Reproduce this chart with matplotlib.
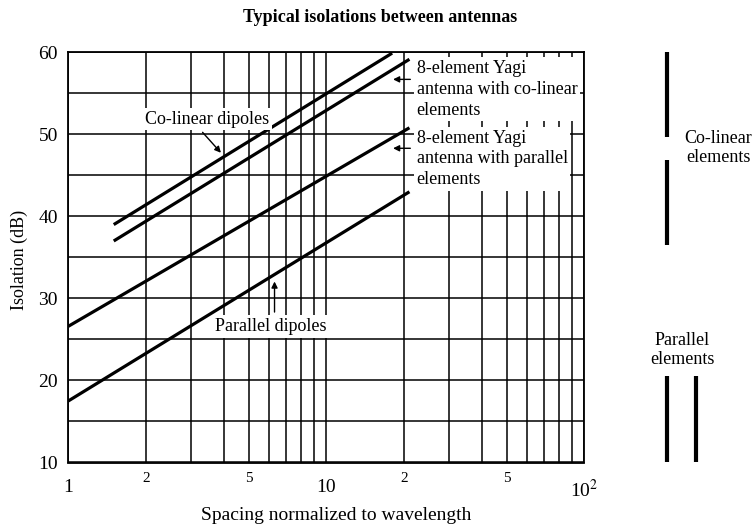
import matplotlib
matplotlib.use("Agg")
import matplotlib.pyplot as plt
from matplotlib.lines import Line2D
from matplotlib.ticker import FixedLocator, FixedFormatter, NullFormatter

plt.rcParams["font.family"] = ["Liberation Serif", "DejaVu Serif"]
plt.rcParams["mathtext.fontset"] = "stix"

# curves (spacing in wavelengths, isolation in dB)
colinear_dip_x = [1.5, 18.0]
colinear_dip_y = [39.0, 59.9]
yagi_colin_x = [1.5, 21.0]
yagi_colin_y = [37.0, 59.15]
yagi_par_x = [1.0, 21.0]
yagi_par_y = [26.6, 50.8]
parallel_dip_x = [1.0, 21.0]
parallel_dip_y = [17.5, 43.0]

major_x = [1, 10, 100]
major_x_labels = ["1", "10", "10$^2$"]
minor_x = [2, 3, 4, 5, 6, 7, 8, 9, 20, 30, 40, 50, 60, 70, 80, 90]
minor_x_labels = ["2", "", "", "5", "", "", "", "", "2", "", "", "5", "", "", "", ""]
y_ticks = [10, 20, 30, 40, 50, 60]
y_minor = [15, 25, 35, 45, 55]

W, H = 755, 528
fig = plt.figure(figsize=(W / 100, H / 100), dpi=100)
L, R, T, B = 68.3, 584.3, 52.3, 462.5
ax = fig.add_axes([L / W, 1 - B / H, (R - L) / W, (B - T) / H])

ax.set_xscale("log")
ax.set_xlim(1, 100)
ax.set_ylim(10, 60)

lw = 2.3
for xs, ys in [(colinear_dip_x, colinear_dip_y), (yagi_colin_x, yagi_colin_y),
               (yagi_par_x, yagi_par_y), (parallel_dip_x, parallel_dip_y)]:
    ax.plot(xs, ys, color="black", lw=lw, solid_capstyle="butt", zorder=2)

ax.xaxis.set_major_locator(FixedLocator(major_x))
ax.xaxis.set_major_formatter(FixedFormatter(major_x_labels))
ax.xaxis.set_minor_locator(FixedLocator(minor_x))
ax.xaxis.set_minor_formatter(FixedFormatter(minor_x_labels))
ax.set_yticks(y_ticks)
ax.set_yticks(y_minor, minor=True)
ax.yaxis.set_minor_formatter(NullFormatter())

ax.tick_params(axis="x", which="major", length=0, pad=12, labelsize=14)
ax.tick_params(axis="x", which="minor", length=0, pad=7, labelsize=11)
ax.tick_params(axis="y", which="both", length=0, pad=7.5, labelsize=14)

ax.set_axisbelow(True)
ax.grid(True, which="both", color="black", lw=1.1)
for s in ax.spines.values():
    s.set_linewidth(1.3)

ax.set_xlabel("Spacing normalized to wavelength", fontsize=14)
ax.xaxis.set_label_coords((336 - L) / (R - L), -(507 - B) / (B - T), transform=ax.transAxes)
ax.set_ylabel("Isolation (dB)", fontsize=13, va="center")
ax.yaxis.set_label_coords(-(L - 19.7) / (R - L), (B - 260) / (B - T))

fig.text(380 / W, 1 - 18 / H, "Typical isolations between antennas",
         ha="center", va="center", fontsize=13, fontweight="bold")

box = dict(facecolor="white", edgecolor="none", pad=2)
txt = dict(fontsize=13, zorder=3, bbox=box)
ax.text(3.46, 51.85, "Co-linear dipoles", ha="center", va="center", **txt)
ax.text(22.4, 55.5, "8-element Yagi\nantenna with co-linear\nelements",
        ha="left", va="center", linespacing=1.3, **txt)
ax.text(22.4, 47.0, "8-element Yagi\nantenna with parallel\nelements",
        ha="left", va="center", linespacing=1.3, **txt)
ax.text(6.08, 26.6, "Parallel dipoles", ha="center", va="center", **txt)

arr = dict(arrowstyle="-|>", color="black", lw=1.0, mutation_scale=9)
ax.annotate("", xy=(3.97, 47.5), xytext=(3.26, 50.5), arrowprops=arr, zorder=4)
ax.annotate("", xy=(17.7, 56.7), xytext=(21.7, 56.7), arrowprops=arr, zorder=4)
ax.annotate("", xy=(17.7, 48.3), xytext=(21.7, 48.3), arrowprops=arr, zorder=4)
ax.annotate("", xy=(6.3, 32.4), xytext=(6.3, 28.0), arrowprops=arr, zorder=4)

# element sketches on the right
def seg(x0, y0, x1, y1):
    fig.add_artist(Line2D([x0 / W, x1 / W], [1 - y0 / H, 1 - y1 / H],
                          transform=fig.transFigure, color="black", lw=3,
                          solid_capstyle="butt"))

seg(667.3, 51.7, 667.3, 136.7)
seg(667.3, 160, 667.3, 245)
seg(667.3, 376, 667.3, 461.7)
seg(696, 376, 696, 461.7)
fig.text(718 / W, 1 - 148 / H, "Co-linear\nelements", ha="center", va="center",
         fontsize=13, linespacing=1.2)
fig.text(682 / W, 1 - 350 / H, "Parallel\nelements", ha="center", va="center",
         fontsize=13, linespacing=1.2)

fig.savefig("out.png", dpi=100)
